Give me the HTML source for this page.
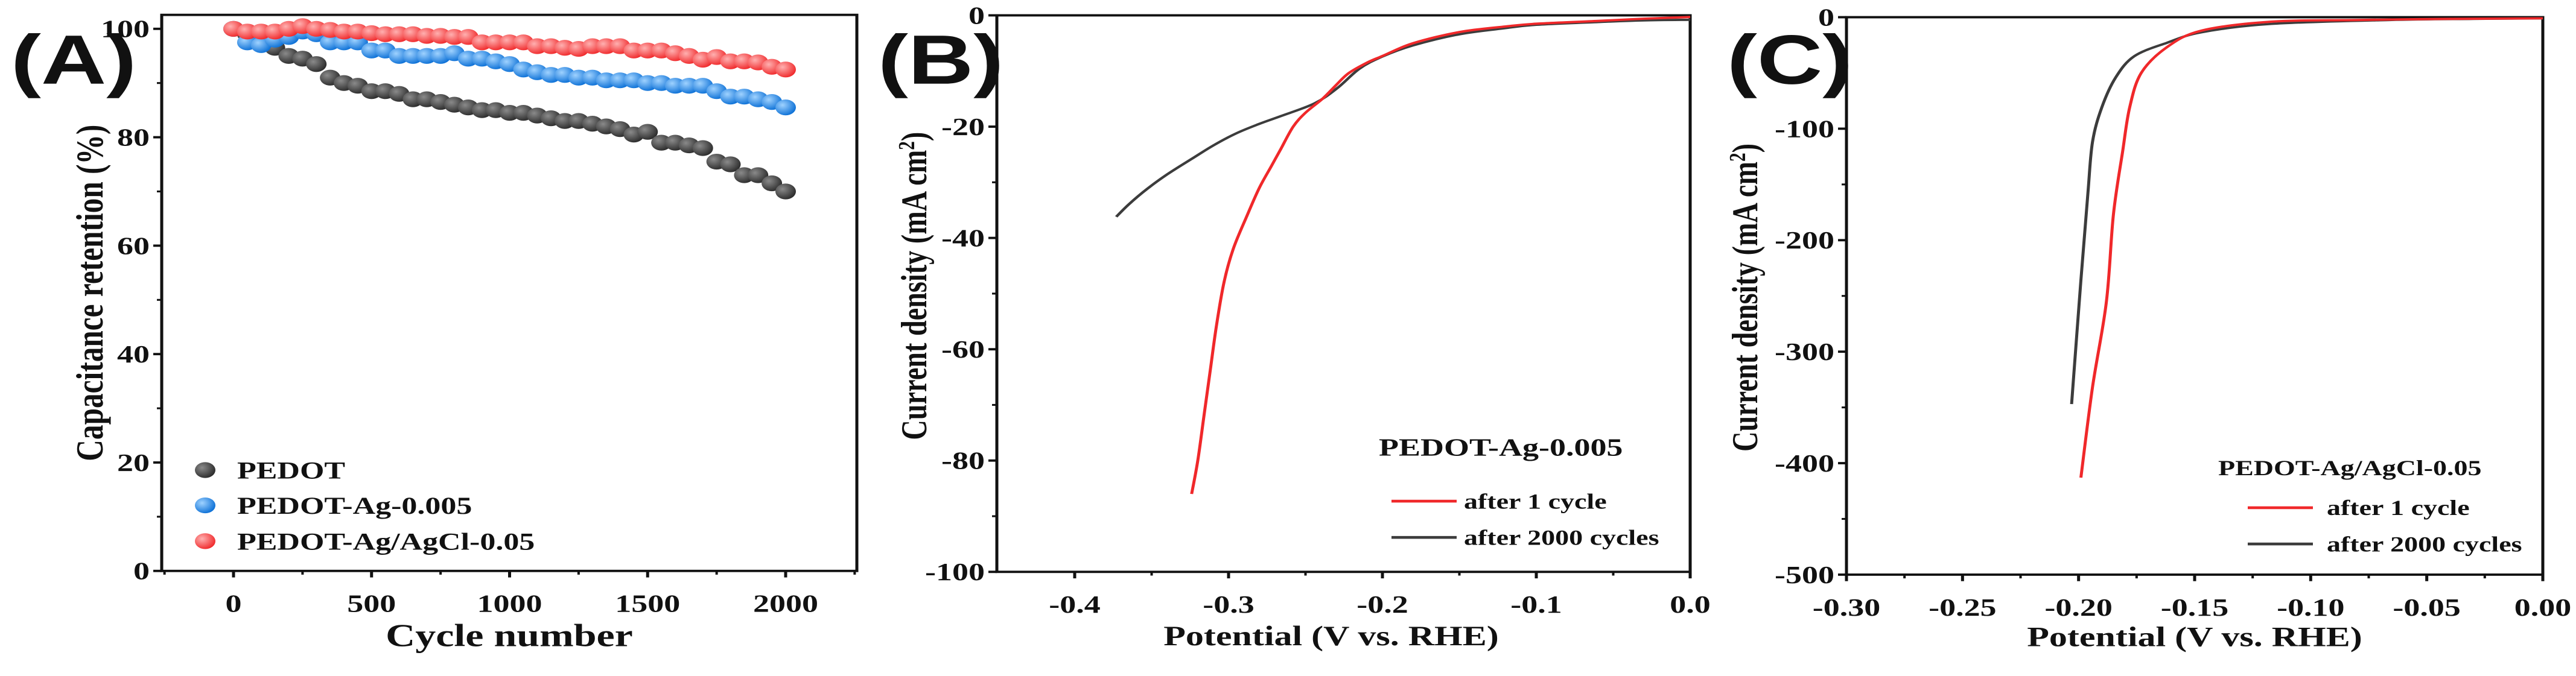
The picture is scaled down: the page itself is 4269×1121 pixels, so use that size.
<!DOCTYPE html>
<html><head><meta charset="utf-8"><style>
html,body{margin:0;padding:0;background:#fff;overflow:hidden;}
svg{display:block;}
text{font-family:"Liberation Serif",serif;font-weight:bold;fill:#111;}
.pl{font-family:"Liberation Sans",sans-serif;font-weight:bold;}
</style></head><body>
<svg id="fig" width="4269" height="1121" viewBox="0 0 4269 1454" preserveAspectRatio="none" xmlns="http://www.w3.org/2000/svg"></svg>
<script>
// ---- Panel A data ----
const cyclesA = [0,50,100,150,200,250,300,350,400,450,500,550,600,650,700,750,800,850,900,950,1000,1050,1100,1150,1200,1250,1300,1350,1400,1450,1500,1550,1600,1650,1700,1750,1800,1850,1900,1950,2000];
const pedotA = [100,99,98,96.5,95,94.5,93.5,91,90,89.5,88.5,88.5,88,87,87,86.5,86,85.5,85,85,84.5,84.5,84,83.5,83,83,82.5,82,81.5,80.5,81,79,79,78.5,78,75.5,75,73,73,71.5,70];
const agA = [100,97.5,97,98,98.5,99.5,99,97.5,97.5,97.5,96,96,95,95,95,95,95.5,94.5,94.5,94,93.5,92.5,92,91.5,91.5,91,91,90.5,90.5,90.5,90,90,89.5,89.5,89.5,88.5,87.5,87.5,87,86.5,85.5];
const agclA = [100,99.5,99.5,99.5,100,100.5,100,99.8,99.5,99.5,99.2,99,99,99,98.7,98.7,98.5,98.5,97.5,97.5,97.5,97.5,96.8,96.8,96.5,96.3,96.8,96.8,96.8,96,96,96,95.5,95,94.3,94.8,94,94,93.8,93,92.5];
const xTicksA = [0,500,1000,1500,2000];
const yTicksA = [0,20,40,60,80,100];
// ---- Panel B data ----
const potB1 = [-0.324,-0.32,-0.316,-0.312,-0.308,-0.303,-0.297,-0.288,-0.28,-0.272,-0.266,-0.258,-0.25,-0.239,-0.23,-0.222,-0.21,-0.2,-0.18,-0.15,-0.12,-0.1,-0.06,-0.03,0];
const curB1 = [-86,-80,-72,-64,-56,-48,-42,-36,-31,-27,-24,-20,-17.5,-15,-12.5,-10.4,-8.5,-7.3,-5,-3,-2,-1.5,-1,-0.6,-0.3];
const potB2 = [-0.373,-0.365,-0.353,-0.34,-0.324,-0.31,-0.295,-0.28,-0.266,-0.244,-0.229,-0.215,-0.2,-0.18,-0.15,-0.12,-0.1,-0.06,-0.03,0];
const curB2 = [-36.2,-34,-31.2,-28.6,-25.8,-23.4,-21.2,-19.5,-18.1,-15.8,-13,-9.6,-7.4,-5.4,-3.4,-2.3,-1.7,-1.2,-0.9,-0.8];
const xTicksB = [-0.4,-0.3,-0.2,-0.1,0.0];
const yTicksB = [0,-20,-40,-60,-80,-100];
// ---- Panel C data ----
const potC1 = [-0.199,-0.194,-0.188,-0.185,-0.181,-0.178,-0.173,-0.162,-0.147,-0.117,-0.08,-0.04,0];
const curC1 = [-413,-332,-255,-177,-120,-81,-50,-27,-12,-4,-2.5,-1.5,-1];
const potC2 = [-0.203,-0.199,-0.196,-0.194,-0.19,-0.184,-0.176,-0.162,-0.147,-0.117,-0.066,-0.03,0];
const curC2 = [-347,-236,-158,-112,-81,-54,-35,-23,-13.5,-6,-2.5,-1.5,-1];
const xTicksC = [-0.30,-0.25,-0.20,-0.15,-0.10,-0.05,0.00];
const yTicksC = [0,-100,-200,-300,-400,-500];

const NS="http://www.w3.org/2000/svg";
const svg=document.getElementById('fig');
function mk(tag,attrs,parent,txt){const e=document.createElementNS(NS,tag);for(const k in attrs)e.setAttribute(k,attrs[k]);if(txt!==undefined)e.textContent=txt;(parent||svg).appendChild(e);return e;}
function lin(d0,d1,r0,r1){return v=>r0+(v-d0)/(d1-d0)*(r1-r0);}

function axes(g,box,sx,sy,xt,yt,xMinor,yMinor,fmtX,fmtY){
  const f=mk('rect',{x:box.l,y:box.t,width:box.r-box.l,height:box.b-box.t,fill:'none',stroke:'#111','stroke-width':5},g);
  
  
  xt.forEach(v=>{const x=sx(v);
    const t=mk('line',{x1:x,x2:x,y1:box.b,y2:box.b+14,stroke:'#111','stroke-width':5},g);
    
    
    const l=mk('text',{x:x,y:box.b+88,'text-anchor':'middle','font-size':54},g,fmtX(v));
    
    });
  xMinor.forEach(v=>{const x=sx(v);mk('line',{x1:x,x2:x,y1:box.b,y2:box.b+8,stroke:'#111','stroke-width':4},g);});
  yt.forEach(v=>{const y=sy(v);
    const t=mk('line',{x1:box.l-14,x2:box.l,y1:y,y2:y,stroke:'#111','stroke-width':5},g);
    
    
    const l=mk('text',{x:box.l-20,y:y+18,'text-anchor':'end','font-size':54},g,fmtY(v));
    
    });
  yMinor.forEach(v=>{const y=sy(v);mk('line',{x1:box.l-8,x2:box.l,y1:y,y2:y,stroke:'#111','stroke-width':4},g);});
}
function path(g,xs,ys,sx,sy,color,name){
  const P=xs.map((v,i)=>[sx(v),sy(ys[i])]);
  let d='M'+P[0][0].toFixed(1)+' '+P[0][1].toFixed(1);
  for(let i=0;i<P.length-1;i++){
    const p0=P[Math.max(0,i-1)],p1=P[i],p2=P[i+1],p3=P[Math.min(P.length-1,i+2)];
    const c1=[p1[0]+(p2[0]-p0[0])/6,p1[1]+(p2[1]-p0[1])/6];
    const c2=[p2[0]-(p3[0]-p1[0])/6,p2[1]-(p3[1]-p1[1])/6];
    d+=' C'+c1[0].toFixed(1)+' '+c1[1].toFixed(1)+' '+c2[0].toFixed(1)+' '+c2[1].toFixed(1)+' '+p2[0].toFixed(1)+' '+p2[1].toFixed(1);
  }
  const p=mk('path',{d:d,fill:'none',stroke:color,'stroke-width':5,'stroke-linejoin':'round'},g);
  
  
}

const defs=mk('defs',{});
[['gk','#8a8a8a','#2a2a2a'],['gb','#9fd2ff','#0a6fd6'],['gr','#ffb0b0','#f0282a']].forEach(([id,c1,c2])=>{
  const g=mk('radialGradient',{id:id,cx:'0.35',cy:'0.35',r:'0.7'},defs);
  mk('stop',{offset:'0','stop-color':c1},g);
  mk('stop',{offset:'1','stop-color':c2},g);
});

// ---------- Panel A ----------
{
const g=mk('g',{});


const box={l:268,r:1420,t:32,b:1228};
const sx=lin(0,2000,387,1302), sy=lin(0,100,1228,62);
axes(g,box,sx,sy,xTicksA,yTicksA,[-250,250,750,1250,1750,2250],[10,30,50,70,90],v=>String(v),v=>String(v));
[[pedotA,'gk','series-pedot'],[agA,'gb','series-pedot-ag'],[agclA,'gr','series-pedot-agcl']].forEach(([arr,gid,name])=>{
  const sg=mk('g',{},g);
  
  
  cyclesA.forEach((c,i)=>{const m=mk('circle',{cx:sx(c),cy:sy(arr[i]),r:17,fill:'url(#'+gid+')'},sg);
    
    });
});
const pl=mk('text',{x:18,y:180,'font-size':150,class:'pl'},g,'(A)');


const xt=mk('text',{x:844,y:1390,'text-anchor':'middle','font-size':68},g,'Cycle number');


const yt=mk('text',{x:0,y:0,'text-anchor':'middle','font-size':64,transform:'translate(170,630) rotate(-90)'},g,'Capacitance retention (%)');


[['PEDOT','gk',1011],['PEDOT-Ag-0.005','gb',1087],['PEDOT-Ag/AgCl-0.05','gr',1164]].forEach(([t,gid,y])=>{
  const le=mk('g',{},g);
  
  
  mk('circle',{cx:340,cy:y,r:17,fill:'url(#'+gid+')'},le);
  mk('text',{x:393,y:y+18,'font-size':52},le,t);
});
}

// ---------- Panel B ----------
{
const g=mk('g',{});


const box={l:1652,r:2801,t:33,b:1230};
const sx=lin(-0.4,0,1781,2801), sy=lin(0,-100,33,1230);
axes(g,box,sx,sy,xTicksB,yTicksB,[-0.35,-0.25,-0.15,-0.05],[-10,-30,-50,-70,-90],v=>v.toFixed(1),v=>String(v));
path(g,potB2,curB2,sx,sy,'#3c3c3c','series-after-2000-cycles');
path(g,potB1,curB1,sx,sy,'#f0282a','series-after-1-cycle');
const pl=mk('text',{x:1455,y:180,'font-size':150,class:'pl'},g,'(B)');


const xt=mk('text',{x:2206,y:1388,'text-anchor':'middle','font-size':60},g,'Potential (V vs. RHE)');


const yt=mk('text',{x:0,y:0,'text-anchor':'middle','font-size':60,transform:'translate(1535,615) rotate(-90)'},g);
yt.innerHTML='Current density (mA cm<tspan dy="-20" font-size="38">2</tspan><tspan dy="20">)</tspan>';


const lt=mk('text',{x:2285,y:980,'font-size':54},g,'PEDOT-Ag-0.005');


[['after 1 cycle','#f0282a',1078],['after 2000 cycles','#3c3c3c',1156]].forEach(([t,c,y])=>{
  const le=mk('g',{},g);
  
  
  mk('line',{x1:2306,x2:2414,y1:y,y2:y,stroke:c,'stroke-width':6},le);
  mk('text',{x:2426,y:y+16,'font-size':46},le,t);
});
}

// ---------- Panel C ----------
{
const g=mk('g',{});


const box={l:3060,r:4214,t:37,b:1236};
const sx=lin(-0.3,0,3060,4214), sy=lin(0,-500,37,1236);
axes(g,box,sx,sy,xTicksC,yTicksC,[-0.275,-0.225,-0.175,-0.125,-0.075,-0.025],[-50,-150,-250,-350,-450],v=>v.toFixed(2),v=>String(v));
path(g,potC2,curC2,sx,sy,'#3c3c3c','series-after-2000-cycles');
path(g,potC1,curC1,sx,sy,'#f0282a','series-after-1-cycle');
const pl=mk('text',{x:2862,y:180,'font-size':150,class:'pl'},g,'(C)');


const xt=mk('text',{x:3637,y:1390,'text-anchor':'middle','font-size':60},g,'Potential (V vs. RHE)');


const yt=mk('text',{x:0,y:0,'text-anchor':'middle','font-size':60,transform:'translate(2912,640) rotate(-90)'},g);
yt.innerHTML='Current density (mA cm<tspan dy="-20" font-size="38">2</tspan><tspan dy="20">)</tspan>';


const lt=mk('text',{x:3676,y:1022,'font-size':46},g,'PEDOT-Ag/AgCl-0.05');


[['after 1 cycle','#f0282a',1092],['after 2000 cycles','#3c3c3c',1170]].forEach(([t,c,y])=>{
  const le=mk('g',{},g);
  
  
  mk('line',{x1:3725,x2:3833,y1:y,y2:y,stroke:c,'stroke-width':6},le);
  mk('text',{x:3856,y:y+16,'font-size':46},le,t);
});
}
</script>
</body></html>
